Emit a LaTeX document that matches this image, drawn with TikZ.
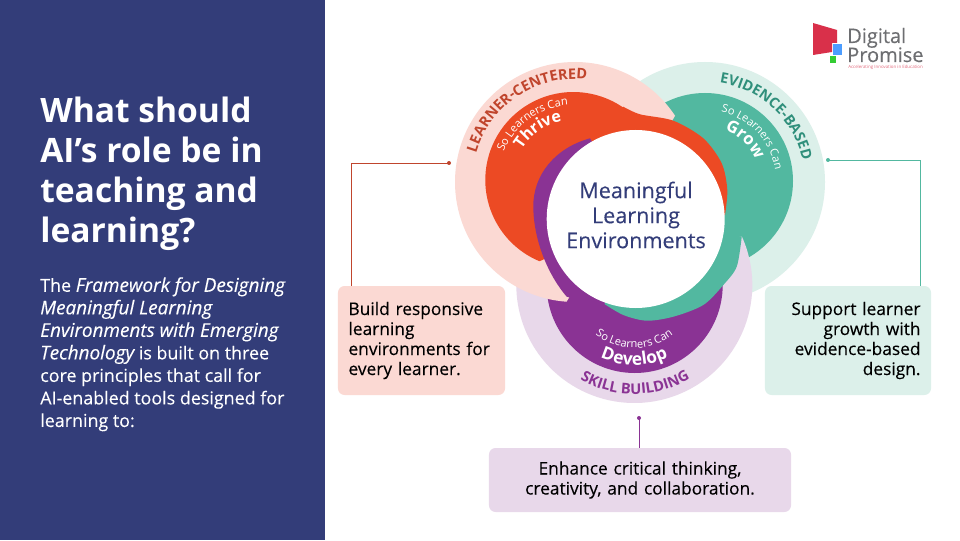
\documentclass[tikz,border=0pt]{standalone}
\usepackage{xcolor}
\usepackage{fontspec}
\setmainfont{Open Sans}
\newfontfamily\mediumfont[FakeBold=0.2]{Open Sans}
\usetikzlibrary{decorations.text}
\definecolor{navy}{HTML}{333D79}
\definecolor{palepink}{HTML}{FBD9D3}
\definecolor{orangered}{HTML}{EC4A24}
\definecolor{palegreen}{HTML}{DCF0EA}
\definecolor{deepgreen}{HTML}{52B8A0}
\definecolor{palepurple}{HTML}{E8D8EA}
\definecolor{deeppurple}{HTML}{8A3394}
\definecolor{learnerred}{HTML}{C0452D}
\definecolor{evidencegreen}{HTML}{2F8F7B}
\definecolor{logored}{HTML}{D9304A}
\definecolor{logogray}{HTML}{6D6E71}
\tikzstyle{every callout}=[rounded corners=5pt,inner xsep=7.9pt,inner ysep=0pt,minimum height=109*0.75pt,font=\mediumfont\fontsize{13}{15}\selectfont,text=black]
\tikzstyle{wire}=[line width=0.6pt]
\newcommand{\curvetext}[7]{
  \path[decorate,decoration={text along path,text align=center,text={|#6|#7}}]
    (#1, #2) ++(#4:#3) arc (#4:#5:#3);
}
\newcommand{\wiredot}[2]{
  \fill[#2] (#1) circle (2);
}
\newcommand{\titletext}[1]{{\fontsize{14.2}{16.9}\selectfont\itshape #1}}
\begin{document}
\begin{tikzpicture}[x=0.75pt,y=0.75pt]
\useasboundingbox (0,0) rectangle (960,540);
\fill[white] (0,0) rectangle (960,540);
\fill[navy] (0,0) rectangle (325,540);
\node[anchor=north west,inner sep=0pt,text=white,align=left,font=\bfseries\fontsize{25.2}{30}\selectfont] (question) at (40,443)
  {What should\\AI's role be in\\teaching and\\learning?};
\node[anchor=north west,inner sep=0pt,text=white,align=left,font=\mediumfont\fontsize{13.4}{16.9}\selectfont] (intro) at (40,263)
  {The \titletext{Framework for Designing}\\\titletext{Meaningful Learning}\\\titletext{Environments with Emerging}\\\titletext{Technology} is built on three\\core principles that call for\\AI-enabled tools designed for\\learning to:};
% circles
\fill[palegreen] (705,358) circle (120);
\fill[deepgreen] (705,359) circle (88);
\fill[palepurple] (634.3,255) ++(24.2:118) arc (24.2:-194:118) -- cycle;
\fill[deeppurple] (634.7,255) circle (88);
\fill[deepgreen] plot[smooth] coordinates {(741.7,303.3) (736.7,273.3) (723.3,255) (703.3,235) (673.3,223.3) (646.7,219.3) (623.3,225) (603.3,236.7)} -- (640,320) -- cycle;
\fill[palepink] (575,358) ++(33.5:120) arc (33.5:266:120) -- cycle;
\fill[orangered] (573.3,360) ++(247.4:88) arc (247.4:55.7:88) -- plot[smooth] coordinates {(623.3,433.3) (640,425.7) (673.3,419.3) (703.3,401.7) (721.7,376.7) (727.3,350) (725,325)} -- (636,321) -- cycle;
\fill[deeppurple] (590,401.7) .. controls (555,392) and (533,365) .. (533.3,333.3) .. controls (533.5,300) and (548,265) .. (566.7,243.3) -- (603.3,233) -- (636,320) -- cycle;
\fill[white] (635.7,321) circle (89);
\node[text=navy,align=center,font=\mediumfont\fontsize{16.2}{18.75}\selectfont] (centre) at (636,325)
  {Meaningful\\Learning\\Environments};
% curved labels
\curvetext{575}{358}{103}{168}{79}{\color{learnerred}\bfseries\fontsize{10.9}{12}\selectfont}{LEARNER-CENTERED}
\curvetext{705}{358}{100}{87}{7}{\color{evidencegreen}\bfseries\fontsize{10.8}{12}\selectfont}{EVIDENCE-BASED}
\curvetext{634.3}{255}{109}{235}{306}{\color{deeppurple}\bfseries\fontsize{11}{12}\selectfont}{SKILL BUILDING}
\curvetext{573.3}{360}{75}{167}{85}{\color{white}\fontsize{8.3}{10}\selectfont}{So Learners Can}
\curvetext{573.3}{360}{60}{158}{92}{\color{white}\bfseries\fontsize{12}{14}\selectfont}{Thrive}
\curvetext{705}{359}{71}{80}{6}{\color{white}\fontsize{8.3}{10}\selectfont}{So Learners Can}
\curvetext{705}{359}{55}{74}{18}{\color{white}\bfseries\fontsize{12.5}{14}\selectfont}{Grow}
\curvetext{634.3}{255}{63}{225}{315}{\color{white}\fontsize{8.3}{10}\selectfont}{So Learners Can}
\curvetext{634.3}{255}{80}{240}{300}{\color{white}\bfseries\fontsize{13}{14}\selectfont}{Develop}
% callouts
\node[every callout,fill=palepink,text width=146*0.75pt,align=left] (learnerbox) at (421.5,199.5)
  {Build responsive\\learning\\environments for\\every learner.};
\node[every callout,fill=palegreen,text width=145*0.75pt,align=right] (growthbox) at (848,199.5)
  {Support learner\\growth with\\evidence-based\\design.};
\node[every callout,fill=palepurple,text width=281*0.75pt,minimum height=64*0.75pt,align=center] (skillbox) at (640,60)
  {Enhance critical thinking,\\creativity, and collaboration.};
\coordinate (learnerdot) at (449,377);
\coordinate (learnerbend) at (351,377);
\coordinate (growthdot) at (828,380);
\coordinate (growthbend) at (920,380);
\coordinate (skilldot) at (639,122);
\draw[wire,learnerred] (learnerdot) -- (learnerbend) -- (learnerbend |- learnerbox.north);
\draw[wire,deepgreen] (growthdot) -- (growthbend) -- (growthbend |- growthbox.north);
\draw[wire,deeppurple] (skilldot) -- (skilldot |- skillbox.north);
\wiredot{learnerdot}{learnerred}
\wiredot{growthdot}{deepgreen}
\wiredot{skilldot}{deeppurple}
% logo
\fill[logored] (813,517) -- (837,510) -- (837,497) -- (832,497) -- (832,488) -- (813,485) -- cycle;
\fill[blue!55!cyan!70] (833,496) rectangle (842,485);
\fill[green!60!gray] (830,484) rectangle (836,477);
\node[anchor=base west,inner sep=0pt,text=logogray,font=\mediumfont\fontsize{15}{15}\selectfont] (digital) at (847,497) {Digital};
\node[anchor=base west,inner sep=0pt,text=logogray,font=\mediumfont\fontsize{15}{15}\selectfont] (promise) at (847,478) {Promise};
\node[anchor=base west,inner sep=0pt,text=logored!70,font=\fontsize{3.3}{4}\selectfont] (tagline) at (848,471) {Accelerating Innovation in Education};
\end{tikzpicture}
\end{document}
